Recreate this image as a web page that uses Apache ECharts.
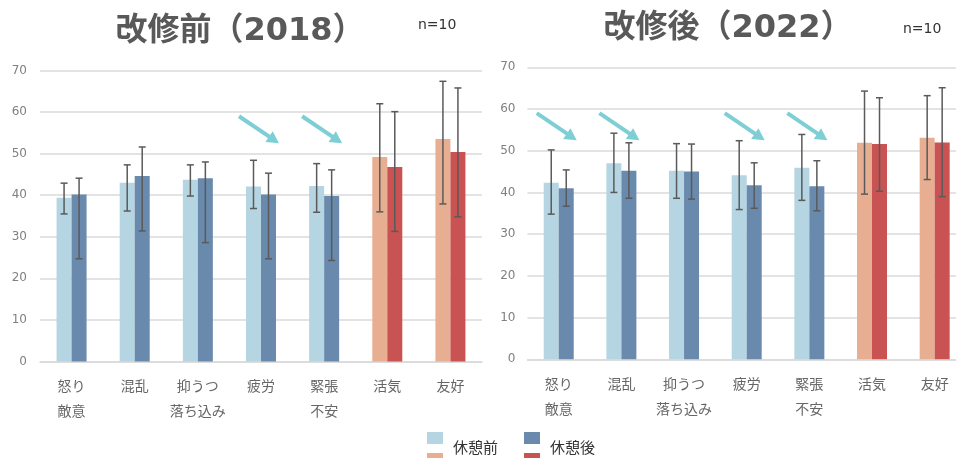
<!DOCTYPE html>
<html>
<head>
<meta charset="utf-8">
<script src="https://cdn.jsdelivr.net/npm/echarts@6/dist/echarts.min.js"></script>
<style>
  html, body { margin: 0; padding: 0; background: #ffffff; overflow: hidden; }
  /* the right-hand plot runs a little past the page edge */
  #chart { width: 966px; height: 458px; }
</style>
</head>
<body>
<div id="chart"></div>
<script>
// POMS-style mood scores before / after a break, two survey years
const CATEGORIES = ['怒り\n敵意', '混乱', '抑うつ\n落ち込み', '疲労', '緊張\n不安', '活気', '友好'];
const POSITIVE = ['活気', '友好'];
const Y_MIN = 0, Y_MAX = 70, Y_STEP = 10;

// 2018 (before renovation)
const BEFORE_2018    = [39.4, 43.0, 43.7, 42.1, 42.2, 49.2, 53.5];
const BEFORE_2018_HI = [42.9, 47.3, 47.3, 48.4, 47.6, 62.0, 67.4];
const BEFORE_2018_LO = [35.5, 36.2, 39.8, 36.8, 35.9, 36.0, 37.9];
const AFTER_2018     = [40.2, 44.6, 44.1, 40.2, 39.8, 46.8, 50.4];
const AFTER_2018_HI  = [44.1, 51.6, 48.0, 45.3, 46.1, 60.1, 65.8];
const AFTER_2018_LO  = [24.7, 31.4, 28.6, 24.7, 24.3, 31.3, 34.8];

// 2022 (after renovation)
const BEFORE_2022    = [42.3, 47.0, 45.2, 44.1, 45.9, 51.9, 53.1];
const BEFORE_2022_HI = [50.2, 54.2, 51.7, 52.4, 53.9, 64.3, 63.2];
const BEFORE_2022_LO = [34.8, 40.0, 38.6, 35.9, 38.1, 39.6, 43.1];
const AFTER_2022     = [41.0, 45.2, 45.0, 41.7, 41.5, 51.6, 52.0];
const AFTER_2022_HI  = [45.4, 51.9, 51.6, 47.1, 47.6, 62.7, 65.1];
const AFTER_2022_LO  = [36.7, 38.6, 38.4, 36.2, 35.6, 40.3, 39.0];

// categories that improved after the break
const ARROWS_2018 = ['疲労', '緊張\n不安'];
const ARROWS_2022 = ['怒り\n敵意', '混乱', '疲労', '緊張\n不安'];

const TITLES = ['改修前（2018）', '改修後（2022）'];
const SAMPLE = 'n=10';
const LEGEND = ['休憩前', '休憩後'];

const COLORS = {
  beforeNeg: '#b4d5e1', afterNeg: '#6a8aad',
  beforePos: '#e8ae92', afterPos: '#c85352',
  err: '#5a5a5a', arrow: '#7ecfd5', grid: '#dadada'
};
const BAR_W = 15;
const JP = '"Noto Sans CJK JP", sans-serif';
const LATIN = '"DejaVu Sans", "Noto Sans CJK JP", sans-serif';

const isPos = i => POSITIVE.includes(CATEGORIES[i]);

function barSeries(name, values, axis, negColor, posColor) {
  return {
    name, type: 'bar', xAxisIndex: axis, yAxisIndex: axis,
    barWidth: BAR_W, barGap: '0%',
    itemStyle: { color: negColor },
    data: values.map((v, i) => ({ value: v, itemStyle: { color: isPos(i) ? posColor : negColor } })),
    z: 2
  };
}

function errorSeries(lo, hi, axis, offset) {
  return {
    type: 'custom', xAxisIndex: axis, yAxisIndex: axis, z: 5, silent: true,
    encode: { x: 0, y: [1, 2] },
    data: CATEGORIES.map((c, i) => [i, lo[i], hi[i]]),
    renderItem(params, api) {
      const ci = api.value(0);
      const pLo = api.coord([ci, api.value(1)]);
      const pHi = api.coord([ci, api.value(2)]);
      const x = pLo[0] + offset;
      const cap = 3.5;
      const st = { stroke: COLORS.err, lineWidth: 1.5 };
      return {
        type: 'group',
        children: [
          { type: 'line', shape: { x1: x, y1: pHi[1], x2: x, y2: pLo[1] }, style: st },
          { type: 'line', shape: { x1: x - cap, y1: pHi[1], x2: x + cap, y2: pHi[1] }, style: st },
          { type: 'line', shape: { x1: x - cap, y1: pLo[1], x2: x + cap, y2: pLo[1] }, style: st }
        ]
      };
    }
  };
}

// diagonal "decreased" arrows drawn above the bars of a category
const ARROW_FROM = 59, ARROW_TO = 52.5;
function arrowSeries(cats, axis) {
  return {
    type: 'custom', xAxisIndex: axis, yAxisIndex: axis, z: 6, silent: true,
    encode: { x: 0, y: [1, 2] },
    data: cats.map(c => [CATEGORIES.indexOf(c), ARROW_FROM, ARROW_TO]),
    renderItem(params, api) {
      const ci = api.value(0);
      const a = api.coord([ci, api.value(1)]);
      const b = api.coord([ci, api.value(2)]);
      const x0 = a[0] - 22, y0 = a[1], x1 = b[0] + 18, y1 = b[1];
      const dx = x1 - x0, dy = y1 - y0, len = Math.hypot(dx, dy);
      const ux = dx / len, uy = dy / len;
      const hl = 12, hw = 6.5;
      const bx = x1 - ux * hl, by = y1 - uy * hl;
      const px = -uy, py = ux;
      return {
        type: 'group',
        children: [
          { type: 'line', shape: { x1: x0, y1: y0, x2: bx + ux * 2, y2: by + uy * 2 },
            style: { stroke: COLORS.arrow, lineWidth: 4 } },
          { type: 'polygon',
            shape: { points: [[x1, y1], [bx + px * hw, by + py * hw], [bx - px * hw, by - py * hw]] },
            style: { fill: COLORS.arrow } }
        ]
      };
    }
  };
}

function xAxisFor(i) {
  return {
    type: 'category', gridIndex: i, data: CATEGORIES,
    axisTick: { show: false },
    axisLine: { lineStyle: { color: COLORS.grid, width: 1.5 } },
    axisLabel: { color: '#666666', fontSize: 14, fontFamily: JP, lineHeight: 25, margin: 12, interval: 0 }
  };
}
function yAxisFor(i, margin) {
  return {
    type: 'value', gridIndex: i, min: Y_MIN, max: Y_MAX, interval: Y_STEP,
    axisLine: { show: false }, axisTick: { show: false },
    splitLine: { lineStyle: { color: COLORS.grid, width: 1.5 } },
    axisLabel: { color: '#808080', fontSize: 12, fontFamily: LATIN, margin }
  };
}

const chart = echarts.init(document.getElementById('chart'), null, { renderer: 'canvas' });

const titleStyle = { fontSize: 32, fontWeight: 'bold', fill: '#595959', fontFamily: LATIN };
const option = {
  animation: false,
  backgroundColor: '#ffffff',
  grid: [
    { left: 40, top: 70.5, width: 442, height: 291 },
    { left: 527.4, top: 67.3, width: 439, height: 292 }
  ],
  xAxis: [xAxisFor(0), xAxisFor(1)],
  yAxis: [yAxisFor(0, 13), yAxisFor(1, 12)],
  series: [
    barSeries(LEGEND[0], BEFORE_2018, 0, COLORS.beforeNeg, COLORS.beforePos),
    barSeries(LEGEND[1], AFTER_2018, 0, COLORS.afterNeg, COLORS.afterPos),
    barSeries(LEGEND[0], BEFORE_2022, 1, COLORS.beforeNeg, COLORS.beforePos),
    barSeries(LEGEND[1], AFTER_2022, 1, COLORS.afterNeg, COLORS.afterPos),
    errorSeries(BEFORE_2018_LO, BEFORE_2018_HI, 0, -BAR_W / 2),
    errorSeries(AFTER_2018_LO, AFTER_2018_HI, 0, BAR_W / 2),
    errorSeries(BEFORE_2022_LO, BEFORE_2022_HI, 1, -BAR_W / 2),
    errorSeries(AFTER_2022_LO, AFTER_2022_HI, 1, BAR_W / 2),
    arrowSeries(ARROWS_2018, 0),
    arrowSeries(ARROWS_2022, 1)
  ],
  graphic: [
    { type: 'text', x: 240, y: 32, style: Object.assign({ text: TITLES[0], align: 'center', verticalAlign: 'middle' }, titleStyle) },
    { type: 'text', x: 728, y: 29, style: Object.assign({ text: TITLES[1], align: 'center', verticalAlign: 'middle' }, titleStyle) },
    { type: 'text', x: 418, y: 25, style: { text: SAMPLE, fontSize: 14, fill: '#333333', fontFamily: LATIN, verticalAlign: 'middle' } },
    { type: 'text', x: 903, y: 29, style: { text: SAMPLE, fontSize: 14, fill: '#333333', fontFamily: LATIN, verticalAlign: 'middle' } },
    // legend: blue row on top, warm row beneath
    { type: 'rect', shape: { x: 427, y: 432, width: 16, height: 12 }, style: { fill: COLORS.beforeNeg } },
    { type: 'rect', shape: { x: 427, y: 453, width: 16, height: 12 }, style: { fill: COLORS.beforePos } },
    { type: 'text', x: 453, y: 447, style: { text: LEGEND[0], fontSize: 15, fill: '#333333', fontFamily: JP, verticalAlign: 'middle' } },
    { type: 'rect', shape: { x: 524, y: 432, width: 16, height: 12 }, style: { fill: COLORS.afterNeg } },
    { type: 'rect', shape: { x: 524, y: 453, width: 16, height: 12 }, style: { fill: COLORS.afterPos } },
    { type: 'text', x: 550, y: 447, style: { text: LEGEND[1], fontSize: 15, fill: '#333333', fontFamily: JP, verticalAlign: 'middle' } }
  ]
};
chart.setOption(option);
</script>
</body>
</html>
